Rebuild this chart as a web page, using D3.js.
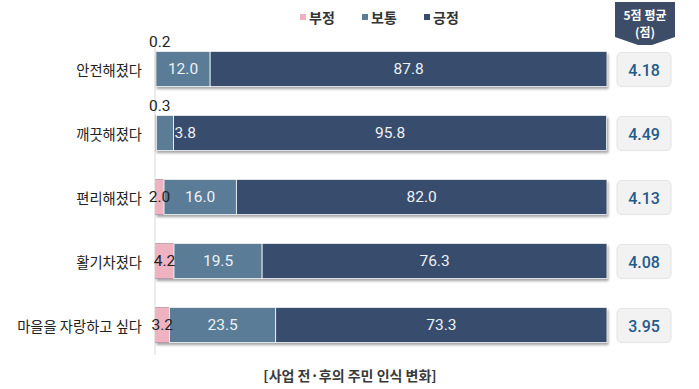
<!DOCTYPE html>
<html>
<head>
<meta charset="utf-8">
<script src="https://cdn.jsdelivr.net/npm/d3@7"></script>
<style>
  body { margin: 0; background: #fff; }
  text { font-family: "Noto Sans CJK KR", "Noto Sans", sans-serif; }
  .num { font-family: Roboto, "Noto Sans", sans-serif; }
</style>
</head>
<body>
<svg id="chart" width="699" height="389"></svg>
<script>
// data
var categories = ['안전해졌다', '깨끗해졌다', '편리해졌다', '활기차졌다', '마을을 자랑하고 싶다'];
var negative = [0.2, 0.3, 2.0, 4.2, 3.2];
var neutral = [12.0, 3.8, 16.0, 19.5, 23.5];
var positive = [87.8, 95.8, 82.0, 76.3, 73.3];
var averages = ['4.18', '4.49', '4.13', '4.08', '3.95'];
var seriesNames = ['부정', '보통', '긍정'];
var colors = ['#efb2c1', '#5a7c97', '#384c6d'];

var svg = d3.select('#chart');

var x = d3.scaleLinear().domain([0, 100]).range([155, 607]);
var y = d3.scaleBand().domain(categories).range([37, 357]).paddingInner(0.45).paddingOuter(0.225);

var defs = svg.append('defs');
var f = defs.append('filter').attr('id', 'shadow').attr('x', '-5%').attr('y', '-20%').attr('width', '110%').attr('height', '150%');
f.append('feDropShadow').attr('dx', 1.5).attr('dy', 2.5).attr('stdDeviation', 1.2).attr('flood-color', '#000').attr('flood-opacity', 0.35);

// axis line
svg.append('line')
    .attr('x1', x(0)).attr('x2', x(0))
    .attr('y1', 48).attr('y2', 355)
    .attr('stroke', '#d9d9d9').attr('stroke-width', 1);

var rows = categories.map(function (c, i) {
    return { cat: c, vals: [negative[i], neutral[i], positive[i]], avg: averages[i] };
});

var row = svg.selectAll('g.row').data(rows).enter().append('g').attr('class', 'row');

// shadow backing
row.append('rect')
    .attr('x', x(0)).attr('y', function (d) { return y(d.cat); })
    .attr('width', x(100) - x(0)).attr('height', y.bandwidth())
    .attr('fill', '#384c6d').attr('filter', 'url(#shadow)');

// segments first, then labels so nothing covers them
row.each(function (d) {
    var g = d3.select(this);
    var start = 0;
    d.vals.forEach(function (v, k) {
        g.append('rect')
            .attr('x', x(start)).attr('y', y(d.cat))
            .attr('width', x(start + v) - x(start)).attr('height', y.bandwidth())
            .attr('fill', colors[k])
            .attr('stroke', '#fff').attr('stroke-width', k == 0 ? 0 : 0.8);
        start += v;
    });
});

row.each(function (d) {
    var g = d3.select(this);
    var start = 0;
    var cy = y(d.cat) + y.bandwidth() / 2;
    d.vals.forEach(function (v, k) {
        var t = g.append('text').attr('class', 'num')
            .attr('font-size', 15.5).attr('dominant-baseline', 'central')
            .text(v.toFixed(1));
        if (k == 0) {
            if (v < 1) {
                t.attr('x', x(0) - 6).attr('y', y(d.cat) - 9).attr('fill', '#222');
            } else {
                t.attr('x', x(v / 2)).attr('y', cy).attr('text-anchor', 'middle').attr('fill', '#222');
            }
        } else if (x(start + v) - x(start) < 30) {
            t.attr('x', x(start + v) + 1).attr('y', cy).attr('fill', '#eef2f6');
        } else {
            t.attr('x', x(start + v / 2)).attr('y', cy).attr('text-anchor', 'middle').attr('fill', '#eef2f6');
        }
        start += v;
    });
});

// category labels
row.append('text')
    .attr('x', 142).attr('y', function (d) { return y(d.cat) + y.bandwidth() / 2; })
    .attr('text-anchor', 'end').attr('dominant-baseline', 'central')
    .attr('font-size', 14.3).attr('fill', '#222')
    .text(function (d) { return d.cat; });

// average boxes
row.append('rect')
    .attr('x', 617).attr('y', function (d) { return y(d.cat) + 1; })
    .attr('width', 54).attr('height', y.bandwidth() - 1)
    .attr('rx', 5)
    .attr('fill', '#f2f2f2').attr('stroke', '#e2e2e2');
row.append('text').attr('class', 'num')
    .attr('x', 644).attr('y', function (d) { return y(d.cat) + y.bandwidth() / 2 + 1; })
    .attr('text-anchor', 'middle').attr('dominant-baseline', 'central')
    .attr('font-size', 16).attr('font-weight', 500).attr('fill', '#245a8c')
    .text(function (d) { return d.avg; });

// header banner
svg.append('path')
    .attr('d', 'M615,2 L675,2 L675,37 L652,45 L638,45 L615,37 Z')
    .attr('fill', '#3d4d68');
svg.append('text')
    .attr('x', 645).attr('y', 14).attr('text-anchor', 'middle').attr('dominant-baseline', 'central')
    .attr('font-size', 12).attr('font-weight', 'bold').attr('fill', '#fff')
    .text('5점 평균');
svg.append('text')
    .attr('x', 645).attr('y', 31).attr('text-anchor', 'middle').attr('dominant-baseline', 'central')
    .attr('font-size', 12).attr('font-weight', 'bold').attr('fill', '#fff')
    .text('(점)');

// legend
var legendX = [300, 362, 424];
var lg = svg.selectAll('g.legend').data(seriesNames).enter().append('g').attr('class', 'legend')
    .attr('transform', function (d, i) { return 'translate(' + legendX[i] + ',17)'; });
lg.append('rect').attr('x', 0).attr('y', -3).attr('width', 6).attr('height', 6)
    .attr('fill', function (d, i) { return colors[i]; });
lg.append('text').attr('x', 9).attr('y', 0).attr('dominant-baseline', 'central')
    .attr('font-size', 14).attr('font-weight', 'bold').attr('fill', '#333')
    .text(function (d) { return d; });

// footer title
svg.append('text')
    .attr('x', 350).attr('y', 375).attr('text-anchor', 'middle').attr('dominant-baseline', 'central')
    .attr('font-size', 14).attr('font-weight', 'bold').attr('fill', '#3a3a3a')
    .text('[사업 전·후의 주민 인식 변화]');
</script>
</body>
</html>
